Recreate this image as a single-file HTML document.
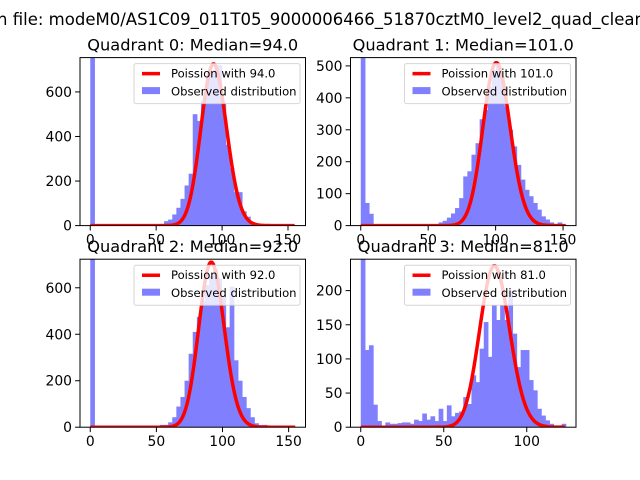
<!DOCTYPE html>
<html><head><meta charset="utf-8">
<style>
body{margin:0;background:#fff;}
svg{display:block;font-family:"DejaVu Sans","Liberation Sans",sans-serif;}
</style></head>
<body>
<svg id="chart" width="640" height="480" viewBox="0 0 640 480">
<rect width="640" height="480" fill="#fff"/>
<text x="-3" y="25" font-size="16.7" textLength="648" lengthAdjust="spacingAndGlyphs">n file: modeM0/AS1C09_011T05_9000006466_51870cztM0_level2_quad_clean</text>
</svg>
<script>
// ---- data ----
const q0Counts=[2000,2,1,1,1,1,1,1,1,1,1,1,1,1,1,2,3,8,20,27,50,80,120,180,233,500,470,560,640,690,700,720,550,363,258,150,150,64,40,16,8,5,3,2,1,1,1,0,1,1];
const q1Counts=[2000,71,37,1,1,1,1,1,1,1,1,1,1,1,1,2,3,5,5,10,15,25,38,55,86,154,170,222,258,333,362,435,487,503,466,373,300,248,190,144,112,92,71,50,29,19,10,5,10,3];
const q2Counts=[2000,1,1,1,1,1,1,1,1,1,1,1,1,1,1,2,3,10,10,21,43,89,130,200,316,410,475,546,612,650,680,640,560,430,605,288,200,130,82,43,17,9,10,3,1,1,1,0,0,1];
const q3Counts=[400,113,120,33,9,2,7,5,5,6,7,7,5,11,9,20,11,16,9,27,9,32,16,21,23,44,34,76,66,115,154,103,179,157,179,157,200,137,88,113,113,69,54,27,17,10,5,2,2,5];
const quadLabels=["0","1","2","3"];
const medians=[94.0,101.0,92.0,81.0];
const poissonPeaks=[725,510,710,236];
const dataMax=[155.5,152,155,123.5];
const yMaxes=[754,526,723,246];
const xTicks0=[0,50,100,150];
const xTicks1=[0,50,100,150];
const xTicks2=[0,50,100,150];
const xTicks3=[0,50,100];
const yTicks0=[0,200,400,600];
const yTicks1=[0,100,200,300,400,500];
const yTicks2=[0,200,400,600];
const yTicks3=[0,50,100,150,200];

const NS="http://www.w3.org/2000/svg";
const svg=document.getElementById('chart');
function mk(tag,attrs,parent){const e=document.createElementNS(NS,tag);for(const k in attrs)e.setAttribute(k,attrs[k]);(parent||svg).appendChild(e);return e;}
function lnFact(k){let s=0;for(let i=2;i<=k;i++)s+=Math.log(i);return s;}

const panels=[
 {x:80,y:57.6,counts:q0Counts,xt:xTicks0,yt:yTicks0},
 {x:350.5,y:57.6,counts:q1Counts,xt:xTicks1,yt:yTicks1},
 {x:80,y:259.2,counts:q2Counts,xt:xTicks2,yt:yTicks2},
 {x:350.5,y:259.2,counts:q3Counts,xt:xTicks3,yt:yTicks3}
];
const W=225.5,H=168;
panels.forEach((p,i)=>{
  const dm=dataMax[i],lam=medians[i];
  const x0=-0.05*dm,x1=dm*1.05,ymax=yMaxes[i];
  const sx=v=>p.x+(v-x0)/(x1-x0)*W;
  const sy=v=>p.y+H-v/ymax*H;
  const g=mk('g',{});
  
  
  const cid='clip'+i;
  const cp=mk('clipPath',{id:cid},g);mk('rect',{x:p.x,y:p.y,width:W,height:H},cp);
  const plot=mk('g',{'clip-path':'url(#'+cid+')'},g);
  const n=p.counts.length,bw=dm/n;
  p.counts.forEach((c,b)=>{
    const r=mk('rect',{x:sx(b*bw),y:sy(c),width:sx((b+1)*bw)-sx(b*bw)+0.6,height:Math.max(0,sy(0)-sy(c)),fill:'#8080ff'},plot);
    
    
  });
  const pk=Math.floor(lam);
  const lp=k=>k*Math.log(lam)-lam-lnFact(k);
  const norm=lp(pk);
  let d='';
  for(let k=0;k<=Math.floor(dm);k++){const v=poissonPeaks[i]*Math.exp(lp(k)-norm);d+=(k?'L':'M')+sx(k).toFixed(2)+' '+sy(v).toFixed(2);}
  const pl=mk('path',{d:d,fill:'none',stroke:'#ff0000','stroke-width':3.5,'stroke-linejoin':'round'},plot);
  
  
  mk('rect',{x:p.x,y:p.y,width:W,height:H,fill:'none',stroke:'#000','stroke-width':1},g);
  p.xt.forEach(t=>{const X=sx(t);mk('line',{x1:X,x2:X,y1:p.y+H,y2:p.y+H+4.9,stroke:'#000'},g);
    const tx=mk('text',{x:X,y:p.y+H+19,'font-size':13.9,'text-anchor':'middle'},g);tx.textContent=t;
    
    });
  p.yt.forEach(t=>{const Y=sy(t);mk('line',{x1:p.x-4.9,x2:p.x,y1:Y,y2:Y,stroke:'#000'},g);
    const tx=mk('text',{x:p.x-8,y:Y+5,'font-size':13.9,'text-anchor':'end'},g);tx.textContent=t;
    
    });
  const tt=mk('text',{x:p.x+W/2,y:p.y-7,'font-size':16.2,'text-anchor':'middle'},g);
  tt.textContent='Quadrant '+quadLabels[i]+': Median='+medians[i].toFixed(1);
  
  
  const lx=p.x+W-171.5,ly=p.y+6;
  const lg=mk('g',{},g);
  
  
  mk('rect',{x:lx,y:ly,width:166,height:40,rx:2,fill:'#fff','fill-opacity':0.8,stroke:'#ccc','stroke-opacity':0.8},lg);
  mk('line',{x1:lx+8,x2:lx+26,y1:ly+10,y2:ly+10,stroke:'#ff0000','stroke-width':3.5},lg);
  mk('rect',{x:lx+8,y:ly+23.5,width:18,height:7,fill:'#8080ff'},lg);
  const t1=mk('text',{x:lx+37,y:ly+14,'font-size':11.6},lg);t1.textContent='Poission with '+medians[i].toFixed(1);
  
  
  const t2=mk('text',{x:lx+37,y:ly+32,'font-size':11.6},lg);t2.textContent='Observed distribution';
  
  
});
</script>
</body></html>
